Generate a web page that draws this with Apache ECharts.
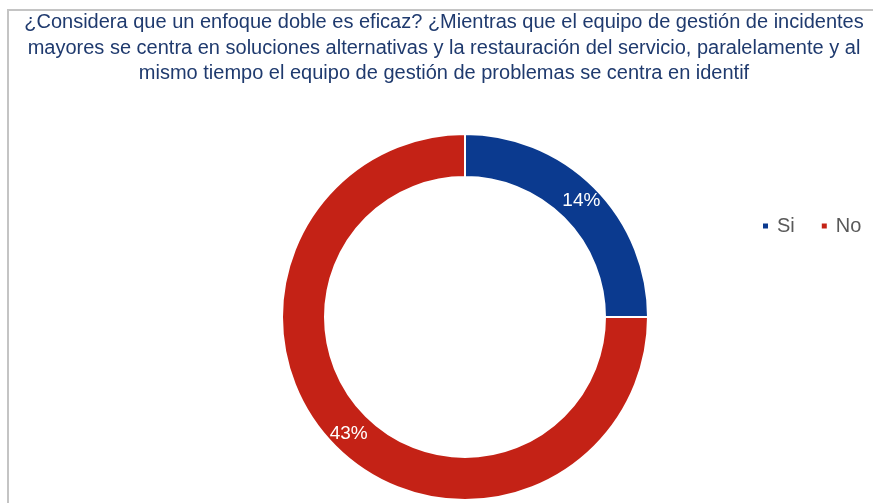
<!DOCTYPE html>
<html>
<head>
<meta charset="utf-8">
<script src="https://cdn.jsdelivr.net/npm/echarts@6/dist/echarts.min.js"></script>
<style>
  html, body { margin: 0; padding: 0; background: #fff; }
  .frame {
    position: absolute; left: 7px; top: 9px; width: 2000px; height: 2000px;
    border-left: 2px solid #c4c4c4; border-top: 2px solid #c4c4c4;
  }
  #chart { position: absolute; left: 0; top: 0; width: 873px; height: 503px; }
</style>
</head>
<body>
<div class="frame"></div>
<div id="chart"></div>
<script>
// datos de la encuesta
const categories = ['Si', 'No']
const values = [14.29, 42.86]
const colors = ['#0b3a8f', '#c42216']
const titleText = '¿Considera que un enfoque doble es eficaz? ¿Mientras que el equipo de gestión de incidentes\n' +
  'mayores se centra en soluciones alternativas y la restauración del servicio, paralelamente y al\n' +
  'mismo tiempo el equipo de gestión de problemas se centra en identif'

const chart = echarts.init(document.getElementById('chart'))
chart.setOption({
  animation: false,
  title: {
    text: titleText,
    left: 439,
    textAlign: 'center',
    top: 5,
    textStyle: {
      fontFamily: 'Liberation Sans',
      fontSize: 20,
      fontWeight: 'normal',
      color: '#1f3a6e',
      lineHeight: 25.5
    }
  },
  legend: {
    data: categories,
    left: 756,
    top: 211,
    icon: 'rect',
    itemWidth: 7,
    itemHeight: 7,
    itemGap: 25,
    textStyle: {
      fontFamily: 'Liberation Sans',
      fontSize: 20,
      color: '#595959',
      padding: [0, 0, 0, 3]
    }
  },
  series: [{
    type: 'pie',
    center: [465, 317],
    radius: [140, 183],
    startAngle: 90,
    clockwise: true,
    itemStyle: {
      borderColor: '#fff',
      borderWidth: 2
    },
    label: {
      position: 'inside',
      formatter: p => Math.round(p.value) + '%',
      color: '#fff',
      fontFamily: 'Liberation Sans',
      fontSize: 19
    },
    labelLine: { show: false },
    emphasis: { disabled: true },
    data: categories.map((name, i) => ({
      name: name,
      value: values[i],
      itemStyle: { color: colors[i] }
    }))
  }]
})
</script>
</body>
</html>
